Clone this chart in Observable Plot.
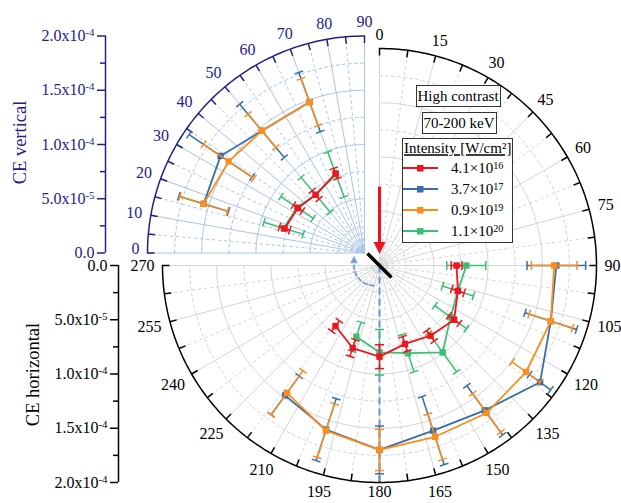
<!DOCTYPE html>
<html><head><meta charset="utf-8">
<script src="https://cdn.jsdelivr.net/npm/d3@7"></script>
<script src="https://cdn.jsdelivr.net/npm/@observablehq/plot@0.6"></script>
<style>body{margin:0;background:#fff}#chart{width:621px;height:503px}</style>
</head><body><div id="chart"></div>
<script>
// ---------- data (CE values in units of 1e-5) ----------
const seriesNames = ["4.1×10^16", "3.7×10^17", "0.9×10^19", "1.1×10^20"];
const seriesColors = ["#f0141e", "#3a6da8", "#fb8c1e", "#3dbf72"];
// horizontal part: angle clockwise from top (deg)
const hAngles = [90, 108, 126, 144, 162, 180, 198, 216];
const hGreenAngles = [90, 108, 126, 144, 162, 180, 198];
const hRed = [7.1, 7.6, 8.5, 8.0, 7.6, 8.4, 8.0, 6.9];
const hRedErr = [0.5, 0.6, 0.6, 0.6, 0.7, 1.1, 0.8, 0.6];
const hBlue = [16.3, 16.6, 18.3, 16.5, 16.0, 17.0, 15.9, 14.8];
const hBlueErr = [2.7, 2.5, 1.2, 2.8, 3.3, 2.2, 3.0, 2.2];
const hOrange = [16.1, 16.6, 16.7, 16.8, 16.6, 17.0, 16.0, 14.5];
const hOrangeErr = [2.1, 2.1, 1.6, 2.2, 2.2, 1.9, 2.6, 2.5];
const hGreen = [8.0, 7.6, 8.1, 9.9, 8.5, 8.0, 6.9];
const hGreenErr = [1.8, 1.5, 1.8, 2.2, 1.8, 2.1, 1.4];
// vertical part: angle from left (0) to top (90)
const vAngles = [17, 34, 50, 70];
const vRed = [7.7, 7.4, 7.0, 7.8];
const vRedErr = [0.5, 0.5, 0.5, 0.5];
const vBlue = [15.5, 16.0, 14.7, 14.8];
const vBlueErr = [2.4, 3.5, 3.2, 2.9];
const vOrange = [15.5, 15.1, 14.7, 14.8];
const vOrangeErr = [2.3, 2.8, 2.0, 2.3];
const vGreen = [7.8, 7.5, 7.0, 7.7];
const vGreenErr = [1.9, 1.8, 2.1, 2.2];
// axes
const radialTicks = [0, 5e-5, 1e-4, 1.5e-4, 2e-4];
const radialTickLabels = ["0.0", "5.0x10^-5", "1.0x10^-4", "1.5x10^-4", "2.0x10^-4"];
const radialMinor = [2.5e-5, 7.5e-5, 1.25e-4, 1.75e-4];
const hAngleLabels = d3.range(0, 271, 15);
const vAngleLabels = d3.range(0, 91, 10);

// ---------- layout ----------
const W = 621, H = 503, CX = 379, CY = 265;
const K = 217 / 2e-4;            // px per CE unit
const L = p => p / K;            // px length -> data
const pX = p => (p - CX) / K;
const pY = p => (CY - p) / K;
const QX = pX(364), QY = pY(252.5); // vertical quadrant origin
const RMAX = 2e-4;
const rad = a => a * Math.PI / 180;
const hxy = (a, r) => [r * Math.sin(rad(a)), r * Math.cos(rad(a))];
const vxy = (a, r) => [QX - r * Math.cos(rad(a)), QY + r * Math.sin(rad(a))];
// label distance from origin: arc + gap + half text extent along the radial direction
function labelR(f, a, text) {
  const [ox, oy] = f(a, 0), [x1, y1] = f(a, 1);
  const dx = Math.abs(x1 - ox), dy = Math.abs(y1 - oy);
  return L(217 + 8 + dx * 4 * String(text).length + dy * 6);
}
const labelPos = (f, a) => { const [x, y] = f(a, labelR(f, a, a)); return [x, Math.max(y, pY(491))]; };

const navy = "#1e2288", lightBlue = "#a9c4e8", grey = "#d4d4d4";

// grid helpers
function arcs(f, rings, a0, a1) {
  const out = [];
  for (const r of rings) for (const a of d3.range(a0, a1 + 0.01, 1)) { const [x, y] = f(a, r); out.push({x, y, r}); }
  return out;
}
function spokes(f, angles, r0, r1) {
  return angles.map(a => { const [x1, y1] = f(a, r0); const [x2, y2] = f(a, r1); return {x1, y1, x2, y2}; });
}
const ringsMajor = [5e-5, 1e-4, 1.5e-4];
const hSp = d3.range(0, 270.1, 7.5);
const vSp = d3.range(0, 90.1, 5);

function seriesMarks(f, angles, vals, errs, color) {
  const pts = angles.map((a, i) => { const [x, y] = f(a, vals[i] * 1e-5); return {x, y}; });
  const bars = [], caps = [];
  const c = L(4.5);
  angles.forEach((a, i) => {
    const r = vals[i] * 1e-5, e = errs[i] * 1e-5;
    const [ox, oy] = f(a, 0), [ux1, uy1] = f(a, 1);
    const ux = ux1 - ox, uy = uy1 - oy, px = -uy, py = ux;
    const [x1, y1] = f(a, r - e), [x2, y2] = f(a, r + e);
    bars.push({x1, y1, x2, y2});
    for (const [x, y] of [[x1, y1], [x2, y2]]) caps.push({x1: x - px * c, y1: y - py * c, x2: x + px * c, y2: y + py * c});
  });
  return [
    Plot.link(bars, {x1: "x1", y1: "y1", x2: "x2", y2: "y2", stroke: color, strokeWidth: 1.5}),
    Plot.link(caps, {x1: "x1", y1: "y1", x2: "x2", y2: "y2", stroke: color, strokeWidth: 1.5}),
    Plot.line(pts, {x: "x", y: "y", stroke: color, strokeWidth: 1.8}),
    Plot.dot(pts, {x: "x", y: "y", symbol: "square", r: 3.6, fill: color})
  ];
}

const hVals = [hRed, hBlue, hOrange, hGreen], hErrs = [hRedErr, hBlueErr, hOrangeErr, hGreenErr];
const hAng = [hAngles, hAngles, hAngles, hGreenAngles];
const vVals = [vRed, vBlue, vOrange, vGreen], vErrs = [vRedErr, vBlueErr, vOrangeErr, vGreenErr];
const drawOrder = [1, 2, 3, 0];

// axis helpers
function radialAxis(x0, y0, sign, color) {
  return [
    Plot.ruleX([x0], {y1: y0, y2: y0 + sign * RMAX, stroke: color, strokeWidth: 1.5}),
    Plot.ruleY(radialTicks, {y: d => y0 + sign * d, x1: x0 - L(8), x2: x0, stroke: color, strokeWidth: 1.5}),
    Plot.ruleY(radialMinor, {y: d => y0 + sign * d, x1: x0 - L(5), x2: x0, stroke: color, strokeWidth: 1.5}),
    Plot.text(radialTicks, {x: x0 - L(11), y: d => y0 + sign * d, text: (d, i) => radialTickLabels[i], textAnchor: "end", fill: color, fontSize: 16})
  ];
}

const triDown = {draw(ctx, size) { const r = Math.sqrt(size / Math.PI); ctx.moveTo(-r * 1.2, -r * 1.2); ctx.lineTo(r * 1.2, -r * 1.2); ctx.lineTo(0, r * 1.2); ctx.closePath(); }};
const triUp = {draw(ctx, size) { const r = Math.sqrt(size / Math.PI); ctx.moveTo(-r * 1.2, r * 1.2); ctx.lineTo(r * 1.2, r * 1.2); ctx.lineTo(0, -r * 1.2); ctx.closePath(); }};

const curl = d3.range(180, 270.1, 3).map(a => ({x: pX(373.5) + L(20) * Math.sin(rad(a)), y: L(20) * Math.cos(rad(a))}));

const svg = Plot.plot({
  width: W, height: H, margin: 0,
  x: {domain: [pX(0), pX(W)], axis: null},
  y: {domain: [pY(H), pY(0)], axis: null},
  style: {fontFamily: "'Liberation Serif', 'Times New Roman', serif", fontSize: "16px", background: "white", color: "black"},
  marks: [
    // horizontal grid
    Plot.line(arcs(hxy, radialMinor, 0, 270), {x: "x", y: "y", z: "r", stroke: grey, strokeDasharray: "3,3", strokeWidth: 1}),
    Plot.link(spokes(hxy, hSp.filter(a => a % 15 !== 0), 0, RMAX), {x1: "x1", y1: "y1", x2: "x2", y2: "y2", stroke: grey, strokeDasharray: "3,3", strokeWidth: 1}),
    Plot.line(arcs(hxy, ringsMajor, 0, 270), {x: "x", y: "y", z: "r", stroke: grey, strokeWidth: 1}),
    Plot.link(spokes(hxy, hSp.filter(a => a % 15 === 0), 0, RMAX), {x1: "x1", y1: "y1", x2: "x2", y2: "y2", stroke: grey, strokeWidth: 1}),
    Plot.line(arcs(hxy, [RMAX], 0, 270), {x: "x", y: "y", stroke: "black", strokeWidth: 1.5}),
    Plot.link(spokes(hxy, hSp, RMAX - L(7), RMAX), {x1: "x1", y1: "y1", x2: "x2", y2: "y2", stroke: "black", strokeWidth: 1.5}),
    Plot.text(hAngleLabels, {x: a => labelPos(hxy, a)[0], y: a => labelPos(hxy, a)[1], text: a => String(a), fontSize: 16, fill: "black"}),
    // vertical quadrant grid
    Plot.line(arcs(vxy, radialMinor, 0, 90), {x: "x", y: "y", z: "r", stroke: lightBlue, strokeDasharray: "3,3", strokeWidth: 1}),
    Plot.link(spokes(vxy, vSp.filter(a => a % 10 !== 0), 0, RMAX), {x1: "x1", y1: "y1", x2: "x2", y2: "y2", stroke: lightBlue, strokeDasharray: "3,3", strokeWidth: 1}),
    Plot.line(arcs(vxy, ringsMajor, 0, 90), {x: "x", y: "y", z: "r", stroke: lightBlue, strokeWidth: 1}),
    Plot.link(spokes(vxy, vSp.filter(a => a % 10 === 0), 0, RMAX), {x1: "x1", y1: "y1", x2: "x2", y2: "y2", stroke: lightBlue, strokeWidth: 1}),
    Plot.line(arcs(vxy, [RMAX], 0, 90), {x: "x", y: "y", stroke: navy, strokeWidth: 1.5}),
    Plot.link(spokes(vxy, vSp, RMAX - L(7), RMAX), {x1: "x1", y1: "y1", x2: "x2", y2: "y2", stroke: navy, strokeWidth: 1.5}),
    Plot.text(vAngleLabels, {x: a => labelPos(vxy, a)[0], y: a => labelPos(vxy, a)[1] + (a === 0 ? L(4) : 0), text: a => String(a), fontSize: 16, fill: navy}),
    // left radial axes
    ...radialAxis(pX(105), QY, 1, navy),
    ...radialAxis(pX(118), 0, -1, "black"),
    Plot.text(["CE vertical"], {x: pX(20), y: pY(142), text: d => d, rotate: -90, fontSize: 18.5, fill: navy}),
    Plot.text(["CE horizontal"], {x: pX(33), y: pY(374), text: d => d, rotate: -90, fontSize: 18.5, fill: "black"}),
    // annotations
    Plot.link([0], {x1: 0, y1: 0, x2: hxy(180, RMAX)[0], y2: hxy(180, RMAX)[1], stroke: "#6a92c8", strokeWidth: 2, strokeDasharray: "7,4"}),
    Plot.line(curl, {x: "x", y: "y", stroke: "#7ea2d2", strokeWidth: 2, strokeDasharray: "4,3"}),
    Plot.dot([0], {x: pX(353.5), y: pY(259), symbol: triUp, r: 3.2, fill: "#7ea2d2"}),
    // data
    ...drawOrder.flatMap(s => [
      ...seriesMarks(hxy, hAng[s], hVals[s], hErrs[s], seriesColors[s]),
      ...seriesMarks(vxy, vAngles, vVals[s], vErrs[s], seriesColors[s])
    ]),
    Plot.link([0], {x1: hxy(315, L(17))[0], y1: hxy(315, L(17))[1], x2: hxy(135, L(17))[0], y2: hxy(135, L(17))[1], stroke: "black", strokeWidth: 3.5}),
    Plot.link([0], {x1: 0, y1: pY(186), x2: 0, y2: pY(246), stroke: "#f0141e", strokeWidth: 3}),
    Plot.dot([0], {x: 0, y: pY(247.5), symbol: triDown, r: 5, fill: "#f0141e"})
  ]
});

// legend / info boxes
const g = d3.select(svg).append("g").attr("font-family", "'Liberation Serif', 'Times New Roman', serif").attr("font-size", 15).attr("text-anchor", "start").attr("fill", "black");
function box(x0, y0, x1, y1) { g.append("rect").attr("x", x0 + 0.5).attr("y", y0 + 0.5).attr("width", x1 - x0).attr("height", y1 - y0).attr("fill", "white").attr("stroke", "#333").attr("stroke-width", 1); }
box(416, 85, 500, 106);
g.append("text").attr("x", 458).attr("y", 96).attr("dy", "0.35em").attr("text-anchor", "middle").text("High contrast");
box(422, 112, 496, 133);
g.append("text").attr("x", 459).attr("y", 123).attr("dy", "0.35em").attr("text-anchor", "middle").text("70-200 keV");
box(402, 138, 512, 242);
g.append("text").attr("x", 404).attr("y", 148).attr("dy", "0.35em").attr("text-anchor", "start").attr("text-decoration", "underline").text("Intensity [W/cm²]");
const legendY = [168, 189, 210, 231];
seriesNames.forEach((name, i) => {
  const y = legendY[i];
  g.append("line").attr("x1", 403).attr("x2", 438).attr("y1", y).attr("y2", y).attr("stroke", seriesColors[i]).attr("stroke-width", 1.8);
  g.append("rect").attr("x", 417).attr("y", y - 3).attr("width", 6.5).attr("height", 6.5).attr("fill", seriesColors[i]);
  g.append("text").attr("x", 451).attr("y", y).attr("dy", "0.35em").attr("text-anchor", "start").text(name);
});

// superscripts: "base^exp"
svg.querySelectorAll("text").forEach(el => {
  if (el.children.length === 0 && el.textContent.includes("^")) {
    const [b, e] = el.textContent.split("^");
    el.textContent = b;
    const ts = document.createElementNS("http://www.w3.org/2000/svg", "tspan");
    ts.setAttribute("dy", "-0.45em");
    ts.setAttribute("font-size", "0.68em");
    ts.textContent = e;
    el.appendChild(ts);
  }
});
document.getElementById("chart").appendChild(svg);
</script></body></html>
